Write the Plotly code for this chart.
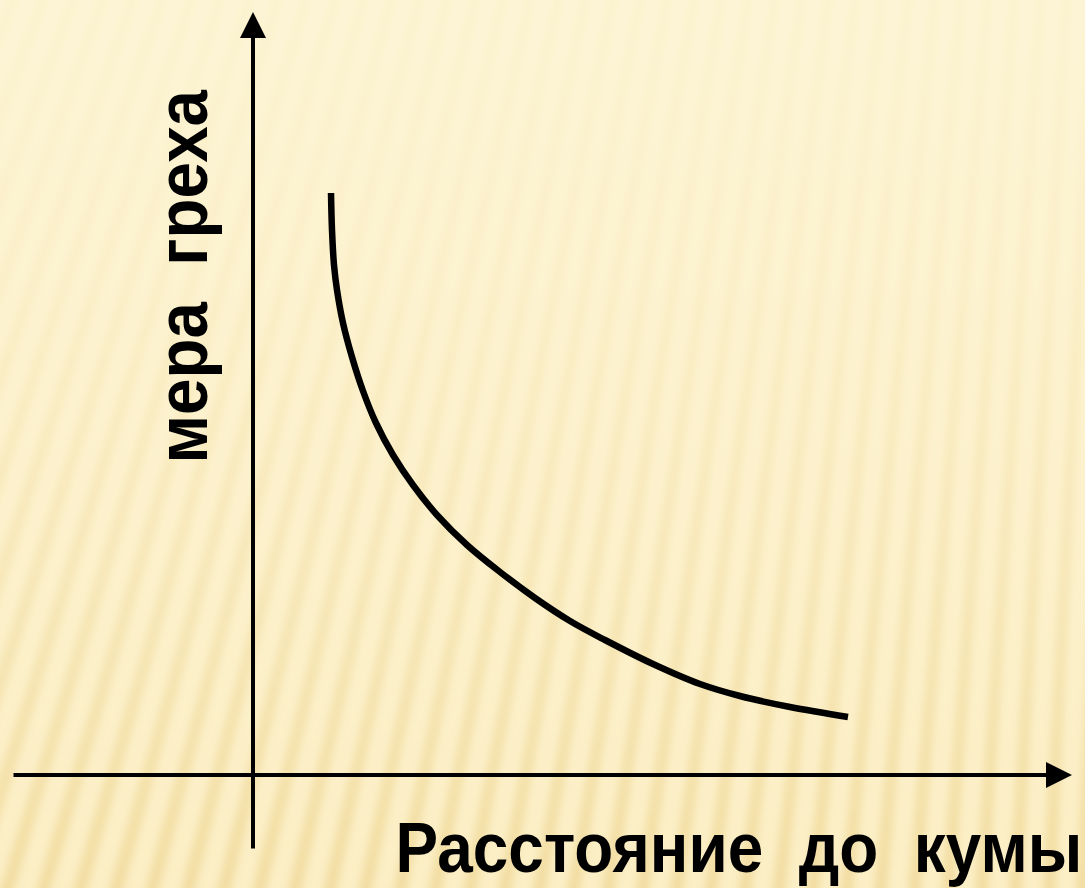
import base64
import struct
import zlib

import numpy as np
import plotly.graph_objects as go

# ---- data (distance to kuma vs. measure of sin), origin at the axes' crossing ----
distance = [0.78, 0.79, 0.81, 0.84, 0.90, 0.99, 1.10, 1.23, 1.40, 1.60, 1.84,
            2.14, 2.47, 2.82, 3.17, 3.52, 4.00, 4.47, 4.87, 5.37, 5.95]
sin_measure = [5.82, 5.45, 5.10, 4.85, 4.52, 4.18, 3.84, 3.52, 3.20, 2.90, 2.60,
               2.30, 2.03, 1.77, 1.54, 1.35, 1.11, 0.91, 0.79, 0.68, 0.58]

x_label = "Расстояние  до  кумы"
y_label = "мера  греха"

W, H = 1085, 888


# ---- decorative striped slide background (procedural texture) ----
def make_png(arr):
    h, w, _ = arr.shape
    rows = np.concatenate([np.zeros((h, 1), np.uint8), arr.reshape(h, w * 3)], axis=1)
    raw = rows.tobytes()

    def chunk(t, d):
        c = struct.pack(">I", len(d)) + t + d
        return c + struct.pack(">I", zlib.crc32(t + d) & 0xFFFFFFFF)

    return (b"\x89PNG\r\n\x1a\n"
            + chunk(b"IHDR", struct.pack(">IIBBBBB", w, h, 8, 2, 0, 0, 0))
            + chunk(b"IDAT", zlib.compress(raw, 9))
            + chunk(b"IEND", b""))


yy, xx = np.mgrid[0:H, 0:W].astype(float)
xvp, yvp = 1250.0, -3200.0
theta = np.arctan2(xx - xvp, yy - yvp)
phase = theta / 0.0082
prof = (0.5 + 0.5 * np.cos(2 * np.pi * phase)) ** 1.6
t = yy / H
amp = 0.10 + 0.78 * t ** 2.0
top_c = np.array([253, 245, 213], float)
bot_c = np.array([252, 239, 198], float)
dark_c = np.array([238, 213, 145], float)
base = top_c[None, None, :] * (1 - t[..., None]) + bot_c[None, None, :] * t[..., None]
img = base + (amp * prof * 0.7)[..., None] * (dark_c[None, None, :] - base)
img = np.clip(img, 0, 255).astype(np.uint8)
bg_uri = "data:image/png;base64," + base64.b64encode(make_png(img)).decode()

# ---- figure ----
fig = go.Figure()
fig.add_trace(go.Scatter(
    x=distance, y=sin_measure, mode="lines",
    line=dict(color="black", width=6.5, shape="spline", smoothing=1.0),
    hoverinfo="skip", showlegend=False,
))

x0, x1 = -2.53, 8.32
y0, y1 = -1.13, 7.75

annotations = [
    # vertical axis with arrow
    dict(x=0, y=7.63, ax=0, ay=-0.75, xref="x", yref="y", axref="x", ayref="y",
         showarrow=True, arrowhead=2, arrowsize=1.3, arrowwidth=4, arrowcolor="black", text=""),
    # horizontal axis with arrow
    dict(x=8.19, y=0, ax=-2.41, ay=0, xref="x", yref="y", axref="x", ayref="y",
         showarrow=True, arrowhead=2, arrowsize=1.3, arrowwidth=4, arrowcolor="black", text=""),
    dict(x=-0.71, y=4.98, xref="x", yref="y", text=y_label, showarrow=False,
         textangle=-90, xanchor="center", yanchor="middle",
         font=dict(family="Liberation Sans, Arial", size=72, color="black", weight="bold")),
    dict(x=8.31, y=-0.73, xref="x", yref="y", text=x_label, showarrow=False,
         xanchor="right", yanchor="middle",
         font=dict(family="Liberation Sans Narrow, Arial Narrow, Liberation Sans", size=70,
                   color="black", weight="bold")),
]

fig.update_layout(
    width=W, height=H,
    margin=dict(l=0, r=0, t=0, b=0),
    paper_bgcolor="#FCF0C8",
    plot_bgcolor="rgba(0,0,0,0)",
    xaxis=dict(range=[x0, x1], visible=False, fixedrange=True),
    yaxis=dict(range=[y0, y1], visible=False, fixedrange=True),
    annotations=annotations,
    images=[dict(source=bg_uri, xref="paper", yref="paper", x=0, y=1, sizex=1, sizey=1,
                 xanchor="left", yanchor="top", sizing="stretch", layer="below")],
    showlegend=False,
)

post_js = """
document.body.style.margin = '0';
document.body.style.overflow = 'hidden';
var gd = document.getElementById('{plot_id}');
var texts = gd.querySelectorAll('text.annotation-text');
texts.forEach(function (t) {
  var s = t.textContent || '';
  var k = null, right = false;
  if (s.indexOf('кумы') >= 0) { k = 0.913; right = true; }
  else if (s.indexOf('греха') >= 0) { k = 0.91; }
  if (k) {
    var b = t.getBBox();
    var cx = right ? (b.x + b.width) : (b.x + b.width / 2);
    t.setAttribute('transform', 'translate(' + cx + ',0) scale(' + k + ',1) translate(' + (-cx) + ',0)');
  }
});
"""

fig.write_html("out.html", config={"displayModeBar": False, "staticPlot": True},
               post_script=post_js)
